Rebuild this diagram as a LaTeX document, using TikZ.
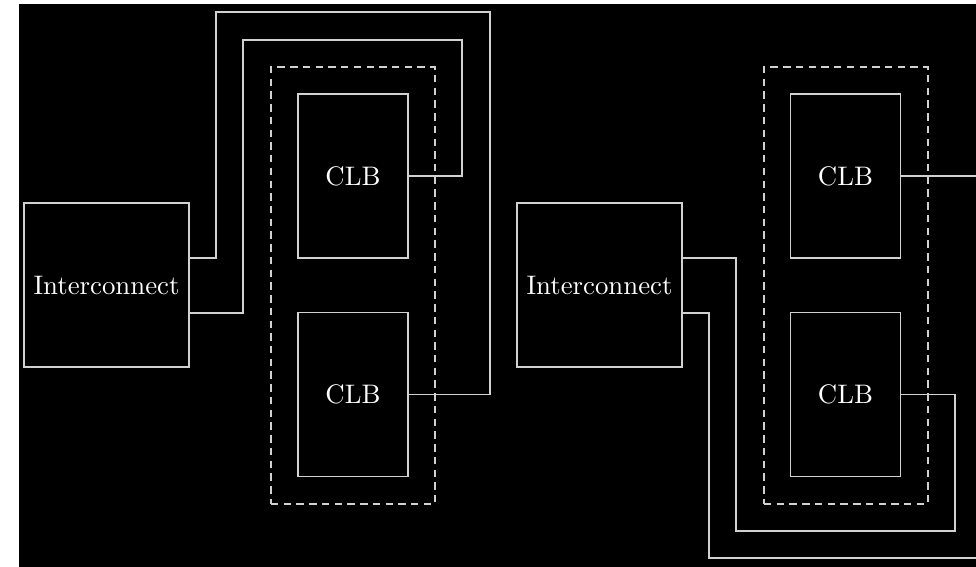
\documentclass[tikz,border=0pt]{standalone}
\usetikzlibrary{calc}
\begin{document}
\begin{tikzpicture}[x=0.377pt,y=-0.377pt,
  wire/.style={draw=white!82!black,line width=0.7pt},
  blockbox/.style={draw=white!82!black,line width=0.7pt,text=white,inner sep=0pt,font=\fontsize{10.1}{12}\selectfont},
  icbox/.style={blockbox,minimum width=165*0.377pt,minimum height=164*0.377pt},
  clbbox/.style={blockbox,minimum width=110*0.377pt,minimum height=164*0.377pt},
  groupbox/.style={draw=white!82!black,line width=0.7pt,dash pattern=on 2.8pt off 2pt,minimum width=164*0.377pt,minimum height=437*0.377pt,inner sep=0pt}]
\useasboundingbox (0,0) rectangle (976,567);
\fill[black] (19,4) rectangle (976,567);
% left group
\node[groupbox] (g1) at (353,285.5) {};
\node[icbox] (ic1) at (106.5,285) {Interconnect};
\node[clbbox] (c1) at (353,176) {CLB};
\node[clbbox] (c2) at (353,394.5) {CLB};
% right group
\node[groupbox] (g2) at (846,285.5) {};
\node[icbox] (ic2) at (599.5,285) {Interconnect};
\node[clbbox] (c3) at (845.5,176) {CLB};
\node[clbbox] (c4) at (845.5,394.5) {CLB};
% edge coordinates
\coordinate (e1) at (976,176);
\coordinate (e2) at (976,558);
% left wires
\draw[wire] ($(ic1.east)+(0,-27)$) -| (216,12) -- (490,12) |- (c2.east);
\draw[wire] ($(ic1.east)+(0,28)$) -| (243,40) -- (462,40) |- (c1.east);
% right wires
\draw[wire] (c3.east) -- (e1);
\draw[wire] ($(ic2.east)+(0,-27)$) -| (736,531) -- (955,531) |- (c4.east);
\draw[wire] ($(ic2.east)+(0,28)$) -| (709,558) -- (e2);
\end{tikzpicture}
\end{document}
